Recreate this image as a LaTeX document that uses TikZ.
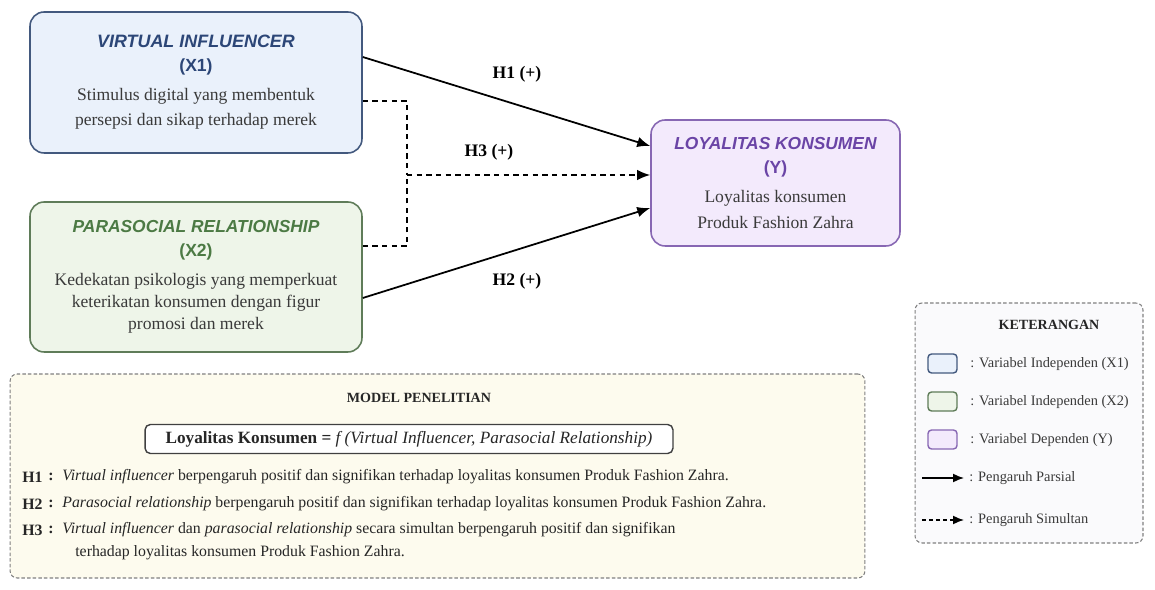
\documentclass[tikz,border=0pt]{standalone}
\usepackage{fontspec}
\setmainfont{Liberation Serif}
\setsansfont{Liberation Sans}
\usetikzlibrary{arrows.meta}
\definecolor{viFill}{HTML}{EAF1FB}
\definecolor{viLine}{HTML}{43597E}
\definecolor{viText}{HTML}{2C4677}
\definecolor{prFill}{HTML}{EEF5E9}
\definecolor{prLine}{HTML}{5F7C59}
\definecolor{prText}{HTML}{4C7A44}
\definecolor{lkFill}{HTML}{F3EAFC}
\definecolor{lkLine}{HTML}{8767B3}
\definecolor{lkText}{HTML}{6A44A6}
\definecolor{modelFill}{HTML}{FDFBEE}
\definecolor{legFill}{HTML}{FAFAFC}
\definecolor{bodyText}{HTML}{3A3A3A}
\tikzset{varbox/.style={draw,rounded corners=8pt,line width=0.9pt,align=center,inner sep=0pt,
        text=bodyText,font=\fontsize{10}{14.5}\selectfont},
        partial/.style={line width=1pt,-{Latex[length=2.6mm,width=2.1mm]}},
        simul/.style={line width=1pt,dash pattern=on 3pt off 2.5pt},
        hyplab/.style={font=\bfseries\fontsize{10}{12}\selectfont},
        infobox/.style={draw=black!50,rounded corners=4pt,line width=0.6pt,dash pattern=on 2pt off 1.2pt},
        swatch/.style={draw,rounded corners=2pt,line width=0.8pt,minimum width=0.58cm,minimum height=0.38cm},
        legtext/.style={anchor=west,inner sep=0pt,text=bodyText,font=\fontsize{8.2}{10}\selectfont},
        hypkey/.style={anchor=west,inner sep=0pt,text=black!85,font=\bfseries\fontsize{9}{11}\selectfont},
        hyptext/.style={anchor=west,inner sep=0pt,text=black!85,font=\fontsize{9}{11}\selectfont}}
\begin{document}
\begin{tikzpicture}[x=0.02cm,y=-0.02cm]
\useasboundingbox[fill=white] (0,0) rectangle (1155,590);
\node[varbox,draw=viLine,fill=viFill,minimum width=6.64cm,minimum height=2.82cm] (virtual) at (196,82.5)
  {{\color{viText}\sffamily\bfseries\itshape\fontsize{10.2}{11}\selectfont VIRTUAL INFLUENCER}\\[-1pt]
   {\color{viText}\sffamily\bfseries\fontsize{10}{11}\selectfont (X1)}\\[2pt]
   Stimulus digital yang membentuk\\
   persepsi dan sikap terhadap merek};
\node[varbox,draw=prLine,fill=prFill,minimum width=6.64cm,minimum height=3cm] (parasocial) at (196,277)
  {{\color{prText}\sffamily\bfseries\itshape\fontsize{9.9}{11}\selectfont PARASOCIAL RELATIONSHIP}\\[-1pt]
   {\color{prText}\sffamily\bfseries\fontsize{10}{11}\selectfont (X2)}\\[2pt]
   Kedekatan psikologis yang memperkuat\\[-2pt]
   keterikatan konsumen dengan figur\\[-2pt]
   promosi dan merek};
\node[varbox,draw=lkLine,fill=lkFill,minimum width=4.98cm,minimum height=2.52cm] (loyal) at (775.5,183)
  {{\color{lkText}\sffamily\bfseries\itshape\fontsize{9.9}{11}\selectfont LOYALITAS KONSUMEN}\\[-1pt]
   {\color{lkText}\sffamily\bfseries\fontsize{10}{11}\selectfont (Y)}\\[2pt]
   Loyalitas konsumen\\
   Produk Fashion Zahra};
\draw[partial] ([yshift=0.51cm]virtual.east) -- ([yshift=0.74cm]loyal.west);
\draw[partial] ([yshift=-0.42cm]parasocial.east) -- ([yshift=-0.5cm]loyal.west);
\coordinate (join) at (407,175);
\draw[simul] ([yshift=-0.37cm]virtual.east) -| (join);
\draw[simul] ([yshift=0.62cm]parasocial.east) -| (join);
\draw[simul,-{Latex[length=2.6mm,width=2.1mm]}] (join) -- (join -| loyal.west);
\node[hyplab] (h1) at (517,74) {H1 (+)};
\node[hyplab] (h3) at (489,152) {H3 (+)};
\node[hyplab] (h2) at (517,281) {H2 (+)};

\node[infobox,fill=modelFill,minimum width=17.1cm,minimum height=4.08cm] (model) at (437.5,476) {};
\node[font=\bfseries\fontsize{8}{10}\selectfont,text=black!85] (modeltitle) at (419,398) {MODEL PENELITIAN};
\node[draw=black!75,rounded corners=3pt,line width=0.8pt,fill=white,minimum width=10.56cm,minimum height=0.58cm,
      font=\fontsize{9.8}{11}\selectfont,text=black!85] (formula) at (409,439)
  {\textbf{Loyalitas Konsumen =} \textit{f (Virtual Influencer, Parasocial Relationship)}};
\node[hypkey] (k1) at (22,477) {H1};
\node[hypkey] (c1) at (48,477) {:};
\node[hyptext] (t1) at (62,477) {\textit{Virtual influencer} berpengaruh positif dan signifikan terhadap loyalitas konsumen Produk Fashion Zahra.};
\node[hypkey] (k2) at (22,504) {H2};
\node[hypkey] (c2) at (48,504) {:};
\node[hyptext] (t2) at (62,504) {\textit{Parasocial relationship} berpengaruh positif dan signifikan terhadap loyalitas konsumen Produk Fashion Zahra.};
\node[hypkey] (k3) at (22,530) {H3};
\node[hypkey] (c3) at (48,530) {:};
\node[hyptext] (t3) at (62,530) {\textit{Virtual influencer} dan \textit{parasocial relationship} secara simultan berpengaruh positif dan signifikan};
\node[hyptext] (t3b) at (75,553) {terhadap loyalitas konsumen Produk Fashion Zahra.};

\node[infobox,fill=legFill,minimum width=4.56cm,minimum height=4.8cm] (legend) at (1029,423) {};
\node[font=\bfseries\fontsize{8}{10}\selectfont,text=black!85] (legtitle) at (1049,325) {KETERANGAN};
\node[swatch,draw=viLine,fill=viFill] (sw1) at (942.5,363.5) {};
\node[swatch,draw=prLine,fill=prFill] (sw2) at (942.5,401.5) {};
\node[swatch,draw=lkLine,fill=lkFill] (sw3) at (942.5,439.5) {};
\node[legtext] (l1) at (970,364) {: Variabel Independen (X1)};
\node[legtext] (l2) at (970,402) {: Variabel Independen (X2)};
\node[legtext] (l3) at (970,440) {: Variabel Dependen (Y)};
\node[legtext] (l4) at (969,478) {: Pengaruh Parsial};
\node[legtext] (l5) at (969,520) {: Pengaruh Simultan};
\coordinate (p4) at (922,478);
\coordinate (p5) at (922,520);
\draw[line width=0.9pt,-{Latex[length=2.2mm,width=1.8mm]}] (p4) -- ([xshift=-0.1cm]l4.west);
\draw[line width=0.9pt,dash pattern=on 2.5pt off 1.5pt,-{Latex[length=2.2mm,width=1.8mm]}] (p5) -- ([xshift=-0.1cm]l5.west);
\end{tikzpicture}
\end{document}
